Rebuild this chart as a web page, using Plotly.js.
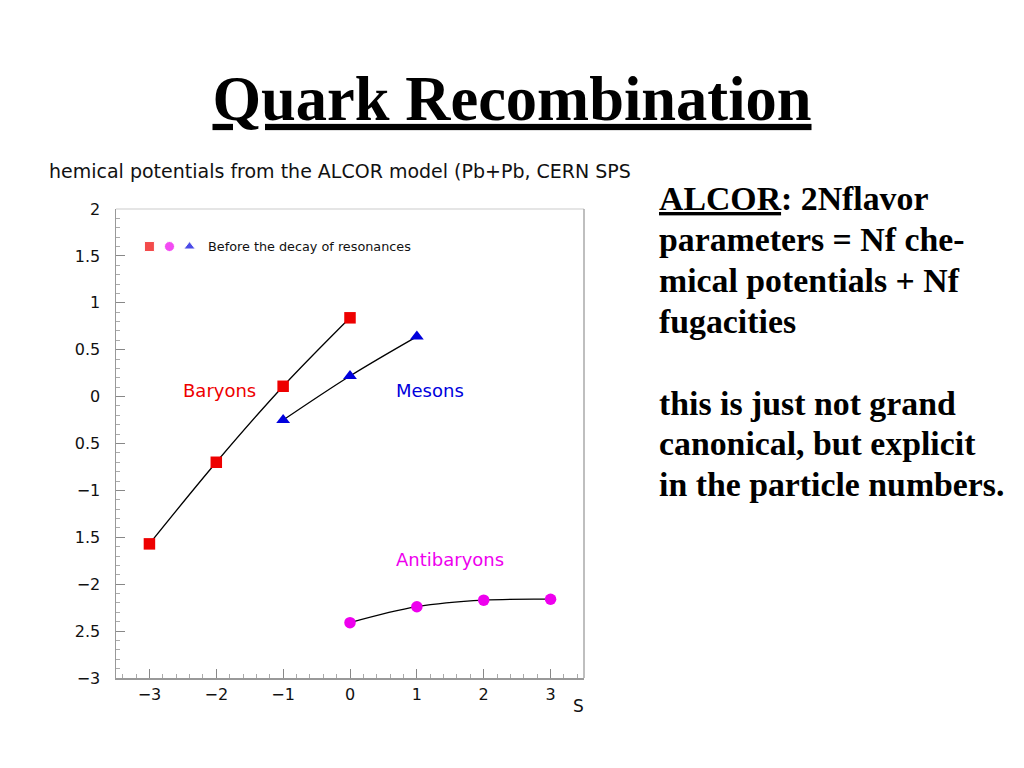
<!DOCTYPE html>
<html>
<head>
<meta charset="utf-8">
<script src="https://cdn.plot.ly/plotly-3.0.1.min.js"></script>
<style>
html,body{margin:0;padding:0;background:#fff;}
#chart{width:1024px;height:768px;}
</style>
</head>
<body>
<div id="chart"></div>
<script>
// ---- data ----
const baryonS = [-3, -2, -1, 0];
const baryonMu = [-1.57, -0.70, 0.11, 0.84];
const mesonS = [-1, 0, 1];
const mesonMu = [-0.25, 0.22, 0.64];
const antibaryonS = [0, 1, 2, 3];
const antibaryonMu = [-2.41, -2.24, -2.17, -2.16];

const legendKeyX = [-3, -2.7, -2.4];
const legendKeyY = [1.6, 1.6, 1.6];

const yTickVals = [2, 1.5, 1, 0.5, 0, -0.5, -1, -1.5, -2, -2.5, -3];
const yTickText = ["2", "1.5", "1", "0.5", "0", "0.5", "\u22121", "1.5", "\u22122", "2.5", "\u22123"];
const xTickVals = [-3, -2, -1, 0, 1, 2, 3];
const xTickText = ["\u22123", "\u22122", "\u22121", "0", "1", "2", "3"];

const rightLines = [
  "<u>ALCOR</u>: 2Nflavor",
  "parameters = Nf che-",
  "mical potentials + Nf",
  "fugacities",
  "",
  "this is just not grand",
  "canonical, but explicit",
  "in the particle numbers."
];

// ---- layout geometry ----
const L = 116, R = 584, T = 209, B = 678;
const W = 1024, H = 768;
const pw = R - L, ph = B - T;
const px = x => (x - L) / pw;
const py = y => (B - y) / ph;

const sans = "DejaVu Sans";
const serif = "Liberation Serif";

const traces = [
  {x: baryonS, y: baryonMu, mode: "lines+markers", line: {shape: "spline", color: "#000", width: 1.3},
   marker: {symbol: "square", size: 11.5, color: "#ee0000"}, showlegend: false},
  {x: mesonS, y: mesonMu, mode: "lines+markers", line: {shape: "spline", color: "#000", width: 1.3},
   marker: {symbol: "triangle-up", size: 12, color: "#0000dd"}, showlegend: false},
  {x: antibaryonS, y: antibaryonMu, mode: "lines+markers", line: {shape: "spline", color: "#000", width: 1.3},
   marker: {symbol: "circle", size: 11.5, color: "#ee00ee"}, showlegend: false},
  {x: legendKeyX, y: legendKeyY, mode: "markers",
   marker: {symbol: ["square", "circle", "triangle-up"], size: [10, 10, 10], color: ["#ee0000", "#ee00ee", "#0000dd"]},
   showlegend: false, hoverinfo: "skip"}
];

const annotations = [
  {xref: "paper", yref: "paper", x: px(47), y: py(171), xanchor: "left", yanchor: "middle",
   text: "hemical potentials from the ALCOR model (Pb+Pb, CERN SPS", showarrow: false,
   font: {family: sans, size: 19, color: "#111"}},
  {xref: "x", yref: "y", x: -2.15, y: 1.6, xanchor: "left", yanchor: "middle",
   text: "Before the decay of resonances", showarrow: false, font: {family: sans, size: 12.8, color: "#111"}},
  {xref: "x", yref: "y", x: -1.95, y: 0.06, text: "Baryons", showarrow: false,
   font: {family: sans, size: 18, color: "#ee0000"}},
  {xref: "x", yref: "y", x: 1.2, y: 0.06, text: "Mesons", showarrow: false,
   font: {family: sans, size: 18, color: "#0000dd"}},
  {xref: "x", yref: "y", x: 1.5, y: -1.74, text: "Antibaryons", showarrow: false,
   font: {family: sans, size: 18, color: "#ee00ee"}},
  {xref: "paper", yref: "paper", x: px(578), y: py(706), xanchor: "center", yanchor: "middle",
   text: "S", showarrow: false, font: {family: sans, size: 17, color: "#111"}}
];

const lineY0 = 199, lineStep = 40.8;
rightLines.forEach((t, i) => {
  if (!t) return;
  annotations.push({xref: "paper", yref: "paper", x: px(657), y: py(lineY0 + i * lineStep),
    xanchor: "left", yanchor: "middle", text: "<b>" + t + "</b>", showarrow: false,
    font: {family: serif, size: 33.8, color: "#000"}});
});

const layout = {
  width: W, height: H,
  paper_bgcolor: "#fff", plot_bgcolor: "#fff",
  margin: {l: L, r: W - R, t: T, b: H - B, pad: 0},
  title: {text: "<b><u>Quark Recombination</u></b>", x: 0.5, xref: "container", xanchor: "center",
    y: 1 - 98 / H, yref: "container", yanchor: "middle",
    font: {family: serif, size: 62.5, color: "#000"}},
  showlegend: false,
  xaxis: {range: [-3.5, 3.5], tickvals: xTickVals, ticktext: xTickText, ticks: "inside", ticklen: 9,
    tickcolor: "#888", tickwidth: 1, showgrid: false, zeroline: false, showline: true, linecolor: "#999",
    linewidth: 1.5, mirror: false, tickfont: {family: sans, size: 16, color: "#111"}, ticklabelstandoff: 1,
    minor: {dtick: 0.2, ticks: "inside", ticklen: 4, tickcolor: "#aaa", showgrid: false}},
  yaxis: {range: [-3, 2], tickvals: yTickVals, ticktext: yTickText, ticks: "inside", ticklen: 9,
    tickcolor: "#888", tickwidth: 1, showgrid: false, zeroline: false, showline: true, linecolor: "#999",
    linewidth: 1.5, tickfont: {family: sans, size: 16, color: "#111"}, ticklabelstandoff: 11,
    minor: {dtick: 0.1, ticks: "inside", ticklen: 4, tickcolor: "#aaa", showgrid: false}},
  shapes: [
    {type: "line", xref: "paper", yref: "paper", x0: 0, x1: 1, y0: 1, y1: 1, line: {color: "#ddd", width: 1.5}},
    {type: "line", xref: "paper", yref: "paper", x0: 1, x1: 1, y0: 0, y1: 1, line: {color: "#aaa", width: 1.5}}
  ],
  annotations: annotations
};

Plotly.newPlot("chart", traces, layout, {staticPlot: true, displayModeBar: false});
</script>
</body>
</html>
